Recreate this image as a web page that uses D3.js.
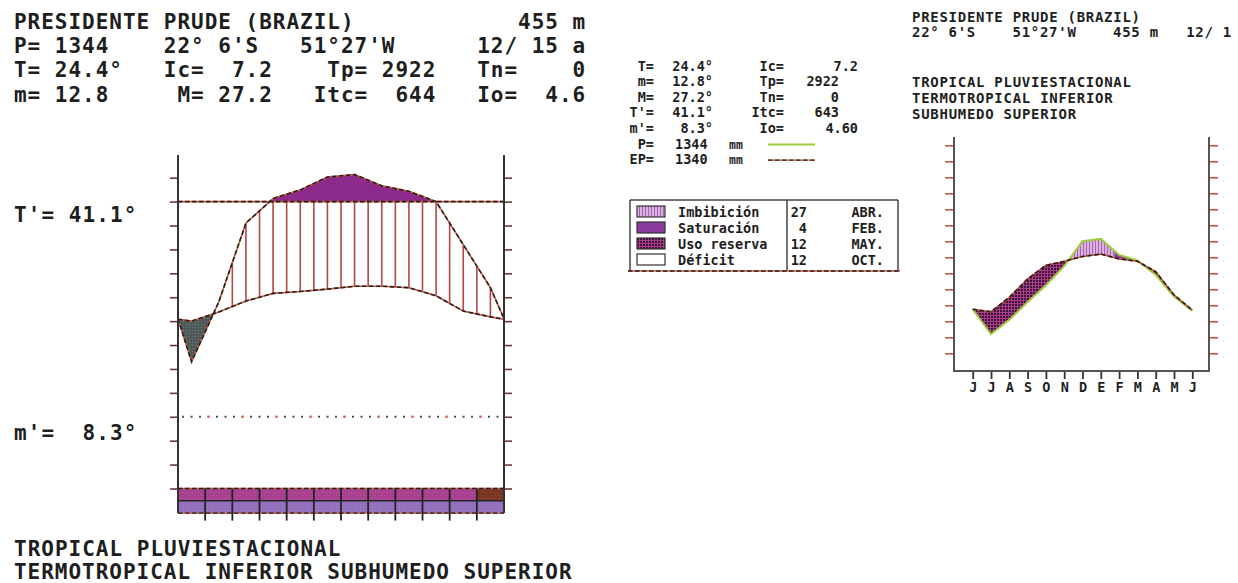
<!DOCTYPE html>
<html>
<head>
<meta charset="utf-8">
<script src="https://cdn.jsdelivr.net/npm/d3@7/dist/d3.min.js"></script>
<style>
html,body{margin:0;padding:0;background:#fff;}
svg{display:block;}
text{font-family:"DejaVu Sans Mono","Liberation Mono",monospace;font-weight:bold;fill:#1e1e1e;white-space:pre;}
</style>
</head>
<body>
<svg id="chart" width="1238" height="583"></svg>
<script>
// ================= DATA =================
// Left ombrothermic diagram (months Jul -> Jun)
const leftMonths   = ["JUL","AGO","SEP","OCT","NOV","DIC","ENE","FEB","MAR","ABR","MAY","JUN"];
const leftTemp     = [20.0, 21.9, 24.2, 25.8, 26.2, 26.7, 27.3, 27.3, 27.0, 25.3, 22.1, 20.9]; // °C
const leftPrecip   = [23, 48, 81, 103, 139, 193, 203, 156, 133, 90, 72, 54];                 // mm
const edgeTemp     = 20.4;   // value drawn at both frame edges
const edgePrecip   = 41;     // mm at both frame edges
const wetLine      = 90;     // mm, horizontal line (scale change)
const leftTicks    = [-15,-10,-5,0,5,10,15,20,25,30,35,40,45,50];
const stripTopKind = ["a","a","a","a","a","a","a","a","a","a","a","b"];
const stripBotKind = ["c","c","c","c","c","c","c","c","c","c","c","c"];

// Header text (fixed-width lines)
const headerLines = [
  "PRESIDENTE PRUDE (BRAZIL)            455 m",
  "P= 1344    22° 6'S   51°27'W      12/ 15 a",
  "T= 24.4°   Ic=  7.2    Tp= 2922   Tn=    0",
  "m= 12.8     M= 27.2   Itc=  644   Io=  4.6"
];
const leftLabelT = "T'= 41.1°";
const leftLabelM = "m'=  8.3°";
const bottomLines = ["TROPICAL PLUVIESTACIONAL","TERMOTROPICAL INFERIOR SUBHUMEDO SUPERIOR"];

// Middle statistics block
const statLabels1 = ["T=","m=","M=","T'=","m'="];
const statValues1 = ["24.4°","12.8°","27.2°","41.1°","8.3°"];
const statLabels2 = ["Ic=","Tp=","Tn=","Itc=","Io="];
const statValues2 = ["7.2","2922","0","643","4.60"];
const seriesLabels = ["P=","EP="];
const seriesTotals = ["1344","1340"];
const seriesUnits  = ["mm","mm"];

// Legend table
const legendLabels = ["Imbibición","Saturación","Uso reserva","Déficit"];
const legendDays   = ["27","4","12","12"];
const legendMonths = ["ABR.","FEB.","MAY.","OCT."];

// Right water-balance diagram (Jun -> Jun)
const rightMonths = ["J","J","A","S","O","N","D","E","F","M","A","M","J"];
const rightP  = [75, 44, 62, 84, 105, 129, 160, 163, 143, 136, 118, 91, 73];   // green curve
const rightEP = [75, 72, 90, 113, 130, 135, 141, 144, 138, 135, 122, 93, 74];  // dark curve
const rightTicks = [20,40,60,80,100,120,140,160,180,200,220,240,260,280];
const satStart = 7.75;   // month index where saturation begins
const rightHeader = [
  "PRESIDENTE PRUDE (BRAZIL)",
  "22° 6'S    51°27'W    455 m   12/ 1"
];
const rightBio = ["TROPICAL PLUVIESTACIONAL","TERMOTROPICAL INFERIOR","SUBHUMEDO SUPERIOR"];

// ================= DRAWING =================
const svg = d3.select("#chart");
const defs = svg.append("defs");

function pattern(id, w, h, bg, build){
  const p = defs.append("pattern").attr("id",id).attr("patternUnits","userSpaceOnUse")
    .attr("width",w).attr("height",h);
  p.append("rect").attr("width",w).attr("height",h).attr("fill",bg);
  if (build) build(p);
}
pattern("imb",3,3,"#dcb0e2",p=>p.append("rect").attr("x",0).attr("width",1).attr("height",3).attr("fill","#a266ad"));
pattern("sat",4,4,"#8a3c9c");
pattern("uso",3,3,"#3f1048",p=>{
  p.append("rect").attr("width",3).attr("height",1).attr("fill","#a8407e");
  p.append("rect").attr("width",1).attr("height",3).attr("fill","#a8407e");
});
pattern("dry",3,3,"#4e5a58",p=>p.append("rect").attr("width",1).attr("height",1).attr("fill","#6f7977"));
pattern("stripA",3,3,"#a6408f",p=>p.append("rect").attr("width",1).attr("height",1).attr("fill","#b5529c"));
pattern("stripB",3,3,"#7a3523",p=>p.append("rect").attr("width",1).attr("height",1).attr("fill","#8d4632"));
pattern("stripC",3,3,"#9370bb",p=>p.append("rect").attr("width",1).attr("height",1).attr("fill","#a282c6"));
const stripFill = {a:"url(#stripA)", b:"url(#stripB)", c:"url(#stripC)"};

function dottedPath(g, d, w){
  g.append("path").attr("d",d).attr("fill","none").attr("stroke","#d0583a").attr("stroke-width",w||1.6);
  g.append("path").attr("d",d).attr("fill","none").attr("stroke","#222").attr("stroke-width",w||1.6)
    .attr("stroke-dasharray","4.5,2.5");
}
function text(g, x, y, s, size, anchor, extra){
  const t = g.append("text").attr("x",x).attr("y",y).attr("font-size",size)
    .attr("text-anchor",anchor||"start").attr("xml:space","preserve").text(s);
  if (extra) extra(t);
  return t;
}

// ---------- LEFT CHART ----------
const L = svg.append("g");
const xL = d3.scaleLinear().domain([0,12]).range([178,504]);
const yL = d3.scaleLinear().domain([-15,50]).range([488.5,177.7]);
const pU = d3.scaleLinear().domain([0, wetLine, 290]).range([0,45,55]); // mm -> plotting units
const uL  = [0, ...d3.range(12).map(i=>i+0.5), 12];
const tV  = [edgeTemp, ...leftTemp, edgeTemp];
const pV  = [pU(edgePrecip), ...leftPrecip.map(p=>pU(p)), pU(edgePrecip)];
const tAt = d3.scaleLinear().domain(uL).range(tV);
const pAt = d3.scaleLinear().domain(uL).range(pV);
const lineY = yL(pU(wetLine));

const clipWet = defs.append("clipPath").attr("id","clipWet");
clipWet.append("rect").attr("x",xL(0)).attr("y",0).attr("width",xL(12)-xL(0)).attr("height",lineY);
const clipDry = defs.append("clipPath").attr("id","clipDry");
clipDry.append("path").attr("d", d3.area().x((d,i)=>xL(uL[i])).y0(600).y1((d,i)=>yL(tV[i]))(uL));

L.append("path").attr("clip-path","url(#clipWet)")
  .attr("d", d3.area().x((d,i)=>xL(uL[i])).y0(lineY).y1((d,i)=>yL(pV[i]))(uL))
  .attr("fill","#8c2a8c");
L.append("path").attr("clip-path","url(#clipDry)")
  .attr("d", d3.area().x((d,i)=>xL(uL[i])).y0((d,i)=>yL(tV[i])).y1((d,i)=>yL(pV[i]))(uL))
  .attr("fill","url(#dry)");
d3.range(1,24).forEach(k=>{
  const u = k/2, t = tAt(u), p = pAt(u);
  if (p - t > 2.5){
    L.append("line").attr("x1",xL(u)).attr("x2",xL(u))
      .attr("y1",yL(t)).attr("y2",Math.max(yL(p), lineY))
      .attr("stroke","#b04a44").attr("stroke-width",1.6);
  }
});
dottedPath(L, `M${xL(0)},${lineY}H${xL(12)}`);
const y0 = yL(0);
L.append("path").attr("d",`M${xL(0)+4},${y0}H${xL(12)}`).attr("stroke","#555").attr("stroke-width",2).attr("stroke-dasharray","2,6.5");
L.append("path").attr("d",`M${xL(0)+4+25.5},${y0}H${xL(12)}`).attr("stroke","#f06a4a").attr("stroke-width",2).attr("stroke-dasharray","2,32");
const lineGen = d3.line().x((d,i)=>xL(uL[i]));
dottedPath(L, lineGen.y((d,i)=>yL(pV[i]))(uL));
dottedPath(L, lineGen.y((d,i)=>yL(tV[i]))(uL));

const stripTop = yL(-15), stripMid = stripTop + 12.3, stripBot = stripMid + 12.3;
leftMonths.forEach((m,i)=>{
  L.append("rect").attr("x",xL(i)).attr("y",stripTop).attr("width",xL(i+1)-xL(i)).attr("height",stripMid-stripTop).attr("fill",stripFill[stripTopKind[i]]);
  L.append("rect").attr("x",xL(i)).attr("y",stripMid).attr("width",xL(i+1)-xL(i)).attr("height",stripBot-stripMid).attr("fill",stripFill[stripBotKind[i]]);
});
L.append("line").attr("x1",xL(0)).attr("x2",xL(12)).attr("y1",stripMid).attr("y2",stripMid).attr("stroke","#222").attr("stroke-width",1.5);
dottedPath(L, `M${xL(0)},${stripTop}H${xL(12)}`, 1.4);
dottedPath(L, `M${xL(0)},${stripBot}H${xL(12)}`, 1.4);
d3.range(1,12).forEach(i=>{
  L.append("line").attr("x1",xL(i)).attr("x2",xL(i)).attr("y1",stripTop).attr("y2",stripBot+7.5)
    .attr("stroke","#222").attr("stroke-width",1.8);
});
[0,12].forEach(u=>{
  L.append("line").attr("x1",xL(u)).attr("x2",xL(u)).attr("y1",155).attr("y2",stripBot)
    .attr("stroke","#333").attr("stroke-width",2);
});
const axL = L.append("g").attr("transform",`translate(${xL(0)-1},0)`)
  .call(d3.axisLeft(yL).tickValues(leftTicks).tickSize(7).tickFormat(""));
const axR = L.append("g").attr("transform",`translate(${xL(12)+1},0)`)
  .call(d3.axisRight(yL).tickValues(leftTicks).tickSize(7).tickFormat(""));
[axL,axR].forEach(a=>{a.select(".domain").remove(); a.selectAll("line").attr("stroke","#6a3a34").attr("stroke-width",1.6);});

const bigSize = 21, bigCW = 13.6;
headerLines.forEach((s,i)=>{
  text(L, 14, 29 + i*24.2, s, bigSize, "start", t=>t.attr("textLength", s.length*bigCW).attr("lengthAdjust","spacing"));
});
text(L, 14, 222, leftLabelT, bigSize, "start", t=>t.attr("textLength", leftLabelT.length*bigCW).attr("lengthAdjust","spacing"));
text(L, 14, 440, leftLabelM, bigSize, "start", t=>t.attr("textLength", leftLabelM.length*bigCW).attr("lengthAdjust","spacing"));
bottomLines.forEach((s,i)=>{
  text(L, 14, 556 + i*22.5, s, bigSize, "start", t=>t.attr("textLength", s.length*bigCW).attr("lengthAdjust","spacing"));
});

// ---------- MIDDLE BLOCK ----------
const M = svg.append("g");
const mSize = 13.5;
const rowY = i => 70.5 + i*15.6;
statLabels1.forEach((s,i)=>{
  text(M, 654, rowY(i), s, mSize, "end");
  text(M, 713, rowY(i), statValues1[i], mSize, "end");
  text(M, 784, rowY(i), statLabels2[i], mSize, "end");
  text(M, (i===0||i===4)?858:839, rowY(i), statValues2[i], mSize, "end");
});
seriesLabels.forEach((s,i)=>{
  const y = rowY(5+i);
  text(M, 654, y, s, mSize, "end");
  text(M, 675, y, seriesTotals[i], mSize, "start");
  text(M, 729, y, seriesUnits[i], mSize*0.85, "start");
});
M.append("line").attr("x1",768).attr("x2",815).attr("y1",rowY(5)-4).attr("y2",rowY(5)-4).attr("stroke","#9ccc3c").attr("stroke-width",2);
dottedPath(M, `M768,${rowY(6)-4}H815`, 1.4);

const tb = {x0:630, x1:898, y0:200, y1:271, xm:787};
M.append("line").attr("x1",tb.x0).attr("x2",tb.x1).attr("y1",tb.y0).attr("y2",tb.y0).attr("stroke","#444").attr("stroke-width",1.5);
M.append("line").attr("x1",tb.x0).attr("x2",tb.x0).attr("y1",tb.y0).attr("y2",tb.y1).attr("stroke","#444").attr("stroke-width",1.5);
M.append("line").attr("x1",tb.x1).attr("x2",tb.x1).attr("y1",tb.y0).attr("y2",tb.y1).attr("stroke","#444").attr("stroke-width",1.5);
M.append("line").attr("x1",tb.xm).attr("x2",tb.xm).attr("y1",tb.y0).attr("y2",tb.y1).attr("stroke","#444").attr("stroke-width",1.5);
dottedPath(M, `M${tb.x0-2},${tb.y1}H${tb.x1+2}`, 1.4);
const swFill = ["url(#imb)","url(#sat)","url(#uso)","#fff"];
legendLabels.forEach((s,i)=>{
  const y = 216.5 + i*16;
  M.append("rect").attr("x",637).attr("y",y-10.5).attr("width",28).attr("height",11)
    .attr("fill",swFill[i]).attr("stroke","#333").attr("stroke-width",1.2);
  text(M, 678, y, s, mSize, "start");
  text(M, 807, y, legendDays[i], mSize, "end");
  text(M, 884, y, legendMonths[i], mSize, "end");
});

// ---------- RIGHT CHART ----------
const R = svg.append("g");
const xR = d3.scaleLinear().domain([0,12]).range([972.7,1192.3]);
const yR = d3.scaleLinear().domain([0,280]).range([369.3,145.3]);
const idx = d3.range(rightMonths.length);

const cAbove = defs.append("clipPath").attr("id","cAbove");
cAbove.append("path").attr("d", d3.area().x(i=>xR(i)).y0(i=>yR(rightEP[i])).y1(0)(idx));
const cBelow = defs.append("clipPath").attr("id","cBelow");
cBelow.append("path").attr("d", d3.area().x(i=>xR(i)).y0(600).y1(i=>yR(rightEP[i]))(idx));
const cSat = defs.append("clipPath").attr("id","cSat");
cSat.append("rect").attr("x",xR(satStart)).attr("y",0).attr("width",300).attr("height",600);

const between = d3.area().x(i=>xR(i)).y0(i=>yR(rightEP[i])).y1(i=>yR(rightP[i]))(idx);
R.append("path").attr("clip-path","url(#cAbove)").attr("d",between).attr("fill","url(#imb)");
R.append("g").attr("clip-path","url(#cAbove)").append("path").attr("clip-path","url(#cSat)").attr("d",between).attr("fill","url(#sat)");
R.append("path").attr("clip-path","url(#cBelow)").attr("d",between).attr("fill","url(#uso)");

R.append("path").attr("d", d3.line().x(i=>xR(i)).y(i=>yR(rightP[i]))(idx))
  .attr("fill","none").attr("stroke","#9ccc3c").attr("stroke-width",2);
dottedPath(R, d3.line().x(i=>xR(i)).y(i=>yR(rightEP[i]))(idx), 1.6);

const fr = {x0:954, x1:1209, top:137, bot:371};
R.append("path").attr("d",`M${fr.x0},${fr.top}V${fr.bot}H${fr.x1}V${fr.top}`).attr("fill","none").attr("stroke","#555").attr("stroke-width",2);
const rl = R.append("g").attr("transform",`translate(${fr.x0-1},0)`).call(d3.axisLeft(yR).tickValues(rightTicks).tickSize(8).tickFormat(""));
const rr = R.append("g").attr("transform",`translate(${fr.x1+1},0)`).call(d3.axisRight(yR).tickValues(rightTicks).tickSize(8).tickFormat(""));
[rl,rr].forEach(a=>{a.select(".domain").remove(); a.selectAll("line").attr("stroke","#c0583f").attr("stroke-width",1.6);});
const rb = R.append("g").attr("transform",`translate(0,${fr.bot+1})`)
  .call(d3.axisBottom(xR).tickValues(idx).tickSize(7).tickFormat(i=>rightMonths[i]));
rb.select(".domain").remove();
rb.selectAll("line").attr("stroke","#333").attr("stroke-width",1.8);
rb.selectAll("text").attr("font-size",13.5).attr("dy",0).attr("y",20).attr("fill","#1e1e1e")
  .style("font-family","'DejaVu Sans Mono',monospace").style("font-weight","bold");

const rSize = 14, rCW = 9.12;
rightHeader.forEach((s,i)=>{
  text(R, 912, 22 + i*15, s, rSize, "start", t=>t.attr("textLength", s.length*rCW).attr("lengthAdjust","spacing"));
});
rightBio.forEach((s,i)=>{
  text(R, 912, 87 + i*16, s, rSize, "start", t=>t.attr("textLength", s.length*rCW).attr("lengthAdjust","spacing"));
});
</script>
</body>
</html>
